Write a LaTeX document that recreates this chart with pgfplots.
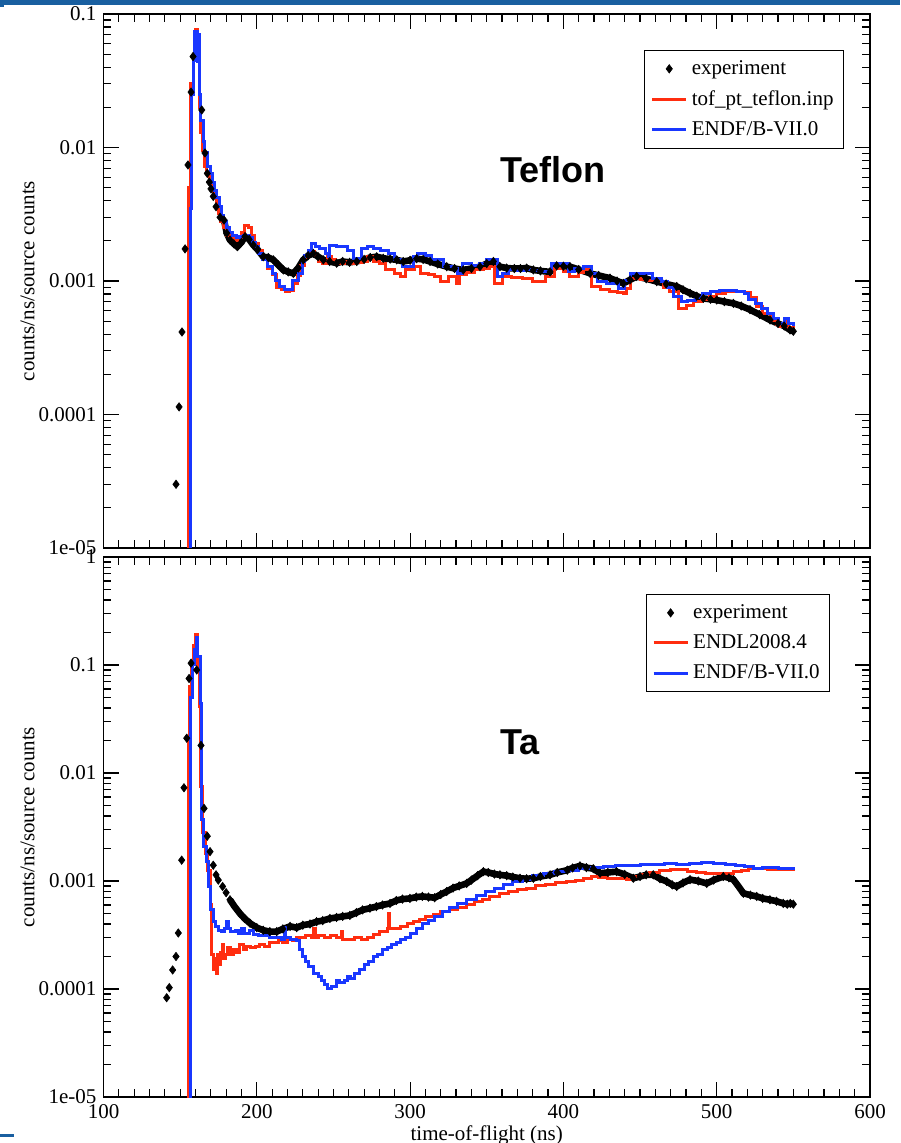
\documentclass[border=0pt]{standalone}
\usepackage{fontspec}
\setmainfont{Liberation Serif}
\newfontfamily\labelfont{Liberation Sans}
\usepackage{pgfplots}
\pgfplotsset{compat=1.18}
\definecolor{gred}{RGB}{255,45,15}
\definecolor{gblue}{RGB}{25,55,255}
\definecolor{slideblue}{RGB}{25,95,160}
\pgfplotsset{
  panel/.style={
    scale only axis, width=383.25pt, xmin=100, xmax=600,
    anchor=south west,
    xtick={100,200,300,400,500,600}, minor x tick num=9,
    major tick length=7.5pt, minor tick length=3.8pt,
    every tick/.style={black, line width=0.6pt},
    axis line style={line width=0.9pt},
    tick label style={font=\fontsize{10.5}{12}\selectfont},
    label style={font=\fontsize{10.5}{12}\selectfont},
    ylabel={counts/ns/source counts},
    ylabel style={at={(axis description cs:-0.099,0.5)}, anchor=center},
    legend cell align=left,
    legend style={draw=black, font=\fontsize{10.5}{12}\selectfont,
      row sep=2.6pt, inner xsep=3pt, inner ysep=3pt, anchor=north east},
  },
  sim/.style={const plot, line width=1.5pt, no marks},
  dense/.style={black, line width=3.3pt, mark=diamond*, mark size=2.1pt, mark options={line width=0.3pt}, forget plot},
  sparse/.style={only marks, black, mark=diamond*, mark size=2.1pt, mark options={line width=0.3pt}},
}
\begin{document}
\begin{tikzpicture}
\useasboundingbox (0,0) rectangle (450pt,571.5pt);
\fill[slideblue] (0,569pt) rectangle (450pt,571.5pt);
\fill[slideblue] (0,568pt) rectangle (2pt,569pt);
\fill[slideblue] (0,3pt) rectangle (7pt,4.5pt);

% ---------------- Teflon ----------------
\begin{axis}[ymode=log, panel, at={(51.75pt,297.5pt)}, height=267pt,
  ymin=1e-5, ymax=0.1,
  ytick={1e-5,1e-4,1e-3,1e-2,1e-1},
  yticklabels={1e-05,0.0001,0.001,0.01,0.1},
  minor ytick={2e-5,3e-5,4e-5,5e-5,6e-5,7e-5,8e-5,9e-5,2e-4,3e-4,4e-4,5e-4,6e-4,7e-4,8e-4,9e-4,2e-3,3e-3,4e-3,5e-3,6e-3,7e-3,8e-3,9e-3,2e-2,3e-2,4e-2,5e-2,6e-2,7e-2,8e-2,9e-2},
  xticklabels={},
  legend style={at={(rel axis cs:0.966,0.9326)}},
]
\addplot[sparse] coordinates {
(147.3,3.0e-5) (149.3,1.14e-4) (151.2,4.15e-4) (153.2,1.74e-3) (155.1,7.4e-3)
(157.1,0.026) (158.4,0.048) (164.1,0.0191) (166.2,0.0091) (167.7,0.0064)
(169.0,0.0055) (170.1,0.0049) (171.6,0.0043) (173.4,0.0036) (176.0,0.0030)
};
\addlegendentry{experiment}
\addplot[dense] coordinates {
(178.6,0.00286) (180.4,0.00228) (182.5,0.00203)
(185.0,0.00190) (187.3,0.00181) (190.0,0.00195) (192.3,0.00215) (195.0,0.00205)
(197.7,0.00186) (200.5,0.00172) (204.2,0.00152) (207.5,0.00150) (210.8,0.00144)
(214.0,0.00132) (217.3,0.00121) (220.5,0.00117) (223.8,0.00114) (227.0,0.00125)
(230.3,0.00144) (233.5,0.00155) (236.9,0.00161) (240.0,0.00152) (243.4,0.00144)
(247.5,0.00140) (252.1,0.00136) (256.0,0.00140) (260.5,0.00138) (265.2,0.00140)
(270.0,0.00145) (274.0,0.00150) (278.2,0.00152) (282.5,0.00148) (287.0,0.00146)
(291.3,0.00144) (295.5,0.00140) (300.0,0.00143) (304.3,0.00147) (308.5,0.00145)
(313.0,0.00140) (318.0,0.00134) (323.9,0.00128) (329.0,0.00124) (334.7,0.00121)
(340.0,0.00124) (345.6,0.00128) (350.0,0.00135) (354.3,0.00140) (358.6,0.00128)
(363.0,0.00125) (368.0,0.00124) (372.0,0.00124) (376.0,0.00125) (380.4,0.00121)
(385.0,0.00119) (391.3,0.00117) (395.6,0.00130) (400.0,0.00129) (404.3,0.00128)
(410.0,0.00122) (417.4,0.00114) (423.0,0.00110) (430.4,0.00105) (435.0,0.00100)
(439.1,0.00096) (443.5,0.00102) (447.8,0.00108) (454.0,0.00104) (460.9,0.00099)
(467.0,0.00095) (473.9,0.00091) (478.0,0.00086) (482.6,0.00081) (487.0,0.00077)
(491.3,0.00074) (496.0,0.00073) (500.0,0.00072) (505.0,0.00070) (510.9,0.00068)
(516.0,0.00065) (521.7,0.00061) (528.0,0.00056) (534.8,0.00051) (540.0,0.00048)
(544.0,0.00046) (547.8,0.00043) (550.0,0.00042)
};
\addplot[gred, sim] coordinates {
(150,1e-6) (155.5,0.005) (157,0.03) (158.5,0.05) (160,0.077) (161.5,0.05) (162.5,0.02)
(163.5,0.013) (164.5,0.0095) (166,0.0072) (167.5,0.0064) (169,0.0058) (170.5,0.005)
(172,0.0043) (173.5,0.0037) (175,0.0032) (176.5,0.0028) (178,0.0025) (180,0.0022)
(182.5,0.0021) (185,0.0020) (187.5,0.0021) (190,0.0023) (192,0.0026) (194.5,0.0025)
(196.5,0.0022) (198.5,0.0019) (201,0.0017) (204,0.00145) (207,0.00125) (210,0.00112)
(213,0.0009) (216,0.00087) (218.5,0.00083) (221.5,0.00085) (224,0.00096) (226.5,0.0011)
(228.5,0.0013) (231,0.0015) (234,0.00166) (237.5,0.00155) (240.5,0.0014) (243,0.00136)
(246,0.00152) (249,0.00145) (251.5,0.00136) (257,0.0014) (261,0.00135) (265,0.00138)
(269,0.0014) (272,0.00152) (276,0.0014) (280,0.00135) (284,0.00121) (290,0.00114)
(294,0.00108) (297,0.00121) (303,0.00128) (307,0.00114) (312,0.00112) (316,0.00108)
(320,0.00099) (325,0.00108) (330,0.00096) (332,0.00112) (337,0.00115) (342,0.00121)
(348,0.00125) (352,0.00128) (355,0.00096) (360,0.00108) (366,0.00106) (373,0.00105)
(380,0.00099) (388,0.00108) (394,0.00125) (400,0.00118) (404,0.00108) (410,0.00115)
(413,0.00121) (418,0.00091) (424,0.00086) (430,0.00084) (435,0.00082) (439,0.00081)
(441,0.00088) (444,0.00105) (450,0.00103) (455,0.001) (461,0.00099) (465,0.0009)
(469,0.00084) (475,0.00062) (480,0.00066) (485,0.0007) (490,0.00073) (495,0.00076)
(500,0.0008) (506,0.00084) (512,0.00084) (518,0.00082) (522,0.00075) (526,0.00064)
(530,0.00057) (535,0.00051) (539,0.00047) (541,0.00046) (545,0.00051) (547,0.00045)
(550,0.00043) (551,0.00043)
};
\addlegendentry{tof\_pt\_teflon.inp}
\addplot[gblue, sim] coordinates {
(150,1e-6) (156.8,0.0035) (157.5,0.025) (158.5,0.045) (159.5,0.074) (161,0.044)
(161.8,0.07) (162.5,0.025) (163.5,0.016) (165,0.011) (166,0.0091) (168,0.0072)
(169.5,0.0064) (171,0.0055) (172.5,0.0048) (174,0.0042) (175.5,0.0036) (177,0.0031)
(178.5,0.0028) (180,0.0025) (182,0.0023) (184,0.0022) (187,0.00212) (189,0.00215)
(191,0.0022) (193,0.0022) (195,0.0021) (197,0.00195) (199,0.0018) (201,0.0016)
(204,0.00144) (207,0.00128) (210,0.00114) (212.5,0.001) (215,0.00091) (218,0.00087)
(220.5,0.00086) (223,0.001) (225,0.00101) (227,0.00114) (229.5,0.0014) (231,0.00155)
(234,0.0017) (235.5,0.0019) (238,0.0018) (241,0.00175) (244.5,0.0016) (246.5,0.00152)
(247.5,0.00186) (252,0.0018) (256,0.0018) (259,0.0017) (263,0.00147) (268,0.00175)
(272,0.0018) (276,0.00175) (281,0.0017) (286,0.0016) (290,0.00144) (295,0.00128)
(299,0.00128) (302,0.00152) (305,0.00161) (310,0.00155) (314,0.00145) (318,0.00144)
(322,0.00128) (328,0.00125) (331,0.00114) (334,0.00136) (340,0.0013) (345,0.00135)
(350,0.00144) (354,0.00144) (357,0.00108) (360,0.00114) (364,0.00121) (370,0.0012)
(375,0.00121) (380,0.0012) (386,0.00117) (392,0.00136) (398,0.00136) (403,0.00117)
(407,0.00125) (413,0.00128) (418,0.00114) (422,0.00099) (428,0.00096) (434,0.00096)
(436,0.00088) (440,0.001) (444,0.00114) (452,0.00114) (458,0.00105) (464,0.00099)
(468,0.0009) (472,0.00076) (477,0.0007) (481,0.00072) (486,0.00075) (491,0.0008)
(496,0.00084) (502,0.00085) (508,0.00085) (513,0.00083) (518,0.0008) (521,0.00073)
(525,0.00068) (529,0.00062) (533,0.00057) (537,0.00052) (540,0.00048) (544,0.00052)
(547,0.00048) (550,0.00047) (551,0.00047)
};
\addlegendentry{ENDF/B-VII.0}
\node[anchor=west, inner sep=0pt, font=\labelfont\bfseries\fontsize{18}{20}\selectfont] at (axis cs:358.6,0.0068) {Teflon};
\end{axis}

% ---------------- Ta ----------------
\begin{axis}[ymode=log, panel, at={(51.75pt,23pt)}, height=270pt,
  ymin=1e-5, ymax=1,
  ytick={1e-5,1e-4,1e-3,1e-2,1e-1,1},
  yticklabels={1e-05,0.0001,0.001,0.01,0.1,1},
  minor ytick={2e-5,3e-5,4e-5,5e-5,6e-5,7e-5,8e-5,9e-5,2e-4,3e-4,4e-4,5e-4,6e-4,7e-4,8e-4,9e-4,2e-3,3e-3,4e-3,5e-3,6e-3,7e-3,8e-3,9e-3,2e-2,3e-2,4e-2,5e-2,6e-2,7e-2,8e-2,9e-2,0.2,0.3,0.4,0.5,0.6,0.7,0.8,0.9},
  xticklabels={100,200,300,400,500,600},
  xlabel={time-of-flight (ns)},
  xlabel style={at={(axis description cs:0.5,-0.071)}, anchor=center},
  legend style={at={(rel axis cs:0.948,0.9315)}},
]
\addplot[sparse] coordinates {
(141.2,8.3e-5) (142.9,1.03e-4) (145.1,1.5e-4) (147.3,2.0e-4) (148.8,3.3e-4)
(151.0,1.56e-3) (152.5,7.3e-3) (154.3,0.021) (155.8,0.075) (157.1,0.104)
(160.8,0.09) (163.6,0.018) (165.6,4.7e-3) (167.7,2.6e-3) (169.5,1.87e-3)
(171.6,1.4e-3) (173.4,1.14e-3) (174.9,1.02e-3) (177.7,8.9e-4) (180,7.8e-4)
};
\addlegendentry{experiment}
\addplot[dense] coordinates {
(182.5,6.7e-4) (185.5,5.8e-4) (189,5.0e-4)
(192,4.5e-4) (195.6,4.06e-4) (200,3.7e-4) (204.2,3.5e-4) (208.5,3.4e-4) (213,3.4e-4)
(217,3.6e-4) (221.7,3.8e-4) (226,3.7e-4) (230,3.9e-4) (234.7,4.0e-4) (239,4.2e-4)
(243,4.3e-4) (247.7,4.5e-4) (252,4.6e-4) (256,4.7e-4) (260.7,4.8e-4) (265,5.1e-4)
(269,5.4e-4) (273.8,5.6e-4) (278,5.8e-4) (282,6.0e-4) (286.9,6.2e-4) (291,6.6e-4)
(295,6.8e-4) (299.9,6.9e-4) (304,7.1e-4) (308,7.2e-4) (312,7.1e-4) (316,7.0e-4)
(320,7.5e-4) (323.9,8.0e-4) (328,8.6e-4) (332,9.0e-4) (336.9,9.5e-4) (340,1.02e-3)
(344,1.12e-3) (347.8,1.22e-3) (351,1.2e-3) (355,1.16e-3) (358.6,1.14e-3) (363,1.12e-3)
(367,1.09e-3) (371.7,1.06e-3) (376,1.05e-3) (380.4,1.06e-3) (385,1.1e-3) (391.3,1.14e-3)
(396,1.2e-3) (402.5,1.26e-3) (406,1.32e-3) (410.8,1.38e-3) (415,1.33e-3) (419.5,1.3e-3)
(423.9,1.18e-3) (429,1.2e-3) (434.7,1.22e-3) (440,1.15e-3) (445.6,1.06e-3) (450,1.1e-3)
(454,1.14e-3) (458.6,1.14e-3) (463,1.05e-3) (467.4,9.9e-4) (471,9.2e-4) (473.9,8.9e-4)
(478,9.6e-4) (482.6,1.03e-3) (488,1.0e-3) (493.5,9.5e-4) (498,1.02e-3) (504.3,1.1e-3)
(508,1.07e-3) (510.9,1.03e-3) (514,9.0e-4) (517.4,7.7e-4) (522,7.4e-4) (526.1,7.2e-4)
(530,6.9e-4) (534.7,6.7e-4) (539,6.5e-4) (543.4,6.2e-4) (546,6.1e-4) (548,6.2e-4) (550,6.1e-4)
};
\addplot[gred, sim] coordinates {
(150,1e-6) (155.3,0.02) (156,0.063) (157.5,0.1) (159,0.15) (160,0.19) (161.5,0.1)
(162.5,0.041) (163.3,0.0075) (164.5,0.0028) (166.5,0.0018) (168,0.00126) (169.5,0.0006)
(170.5,0.00021) (171.5,0.00015) (172.5,0.00019) (173.5,0.00014) (174.5,0.00021)
(175.5,0.00017) (176.5,0.00022) (177.5,0.00026) (178.5,0.00019) (179.5,0.00021)
(181,0.00024) (183,0.00021) (185,0.00023) (187,0.00022) (189,0.00026) (191,0.00023)
(193,0.00025) (196,0.00024) (199,0.00025) (202,0.00026) (205,0.00025) (208,0.00027)
(211,0.00027) (214,0.00028) (217,0.00027) (220,0.00029) (223,0.00028) (226,0.0003)
(229,0.0003) (232,0.00031) (236,0.0003) (237,0.00036) (238,0.0003) (240,0.00031)
(244,0.0003) (248,0.00031) (252,0.0003) (255,0.00034) (256,0.00029) (260,0.00029)
(264,0.0003) (268,0.00029) (272,0.0003) (276,0.00032) (280,0.00034) (285,0.00036)
(285.8,0.0005) (286.8,0.00036) (290,0.00036) (294,0.00038) (298,0.0004) (302,0.00042)
(306,0.00044) (310,0.00047) (315,0.00049) (320,0.00052) (326,0.00054) (331,0.00057)
(337,0.0006) (342,0.00064) (347,0.00068) (352,0.00072) (358,0.00076) (364,0.0008)
(370,0.00083) (376,0.00086) (382,0.0009) (388,0.00093) (395,0.00096) (402,0.00099)
(408,0.00102) (413,0.00106) (418,0.00111) (423,0.00108) (429,0.00106) (435,0.00105)
(441,0.00104) (446,0.0011) (450,0.00114) (456,0.0012) (463,0.00125) (470,0.00127)
(476,0.00127) (481,0.00122) (487,0.0012) (493,0.00118) (500,0.00117) (506,0.00118)
(511,0.00122) (516,0.00126) (521,0.00131) (527,0.0013) (533,0.00128) (540,0.00127)
(545,0.00127) (550,0.00127) (551,0.00127)
};
\addlegendentry{ENDL2008.4}
\addplot[gblue, sim] coordinates {
(150,1e-6) (156.7,0.05) (158,0.1) (159.5,0.14) (160.5,0.18) (161.5,0.12) (163,0.044)
(163.8,0.0037) (165,0.0021) (167,0.0015) (168.5,0.00089) (170,0.00055) (171.5,0.00042)
(173,0.00038) (175,0.00035) (177,0.00034) (179,0.00036) (180.5,0.00042) (181.5,0.00036)
(183,0.00034) (186,0.00035) (188,0.00033) (190,0.00036) (192,0.00033) (195,0.00035)
(198,0.00032) (201,0.00031) (204,0.00031) (208,0.0003) (212,0.0003) (216,0.00029)
(218,0.00037) (219,0.0003) (222,0.00029) (226,0.00028) (228,0.00023) (230,0.0002)
(232,0.00018) (234,0.00016) (237,0.00014) (240,0.00013) (242,0.00012) (244,0.00011)
(246,0.000102) (249,0.000105) (252,0.00012) (254,0.000115) (257,0.00012) (259,0.00013)
(261,0.000125) (264,0.00014) (267,0.00015) (270,0.00017) (273,0.00018) (276,0.0002)
(279,0.00021) (282,0.00023) (285,0.00024) (288,0.00026) (291,0.00027) (294,0.00029)
(297,0.0003) (300,0.00033) (304,0.00036) (308,0.0004) (312,0.00043) (316,0.00047)
(321,0.00052) (326,0.00057) (331,0.00062) (337,0.00068) (343,0.00074) (349,0.0008)
(355,0.00086) (361,0.00092) (367,0.00098) (373,0.00104) (380,0.00112) (387,0.00118)
(394,0.00122) (402,0.00126) (410,0.0013) (418,0.00134) (426,0.00137) (434,0.00139)
(442,0.0014) (450,0.00142) (458,0.00143) (466,0.00144) (474,0.00143) (482,0.00145)
(490,0.00147) (498,0.00145) (506,0.00143) (512,0.0014) (518,0.00135) (524,0.00131)
(530,0.00132) (540,0.0013) (550,0.0013) (551,0.0013)
};
\addlegendentry{ENDF/B-VII.0}
\node[anchor=west, inner sep=0pt, font=\labelfont\bfseries\fontsize{18}{20}\selectfont] at (axis cs:358.6,0.0194) {Ta};
\end{axis}
\end{tikzpicture}
\end{document}
